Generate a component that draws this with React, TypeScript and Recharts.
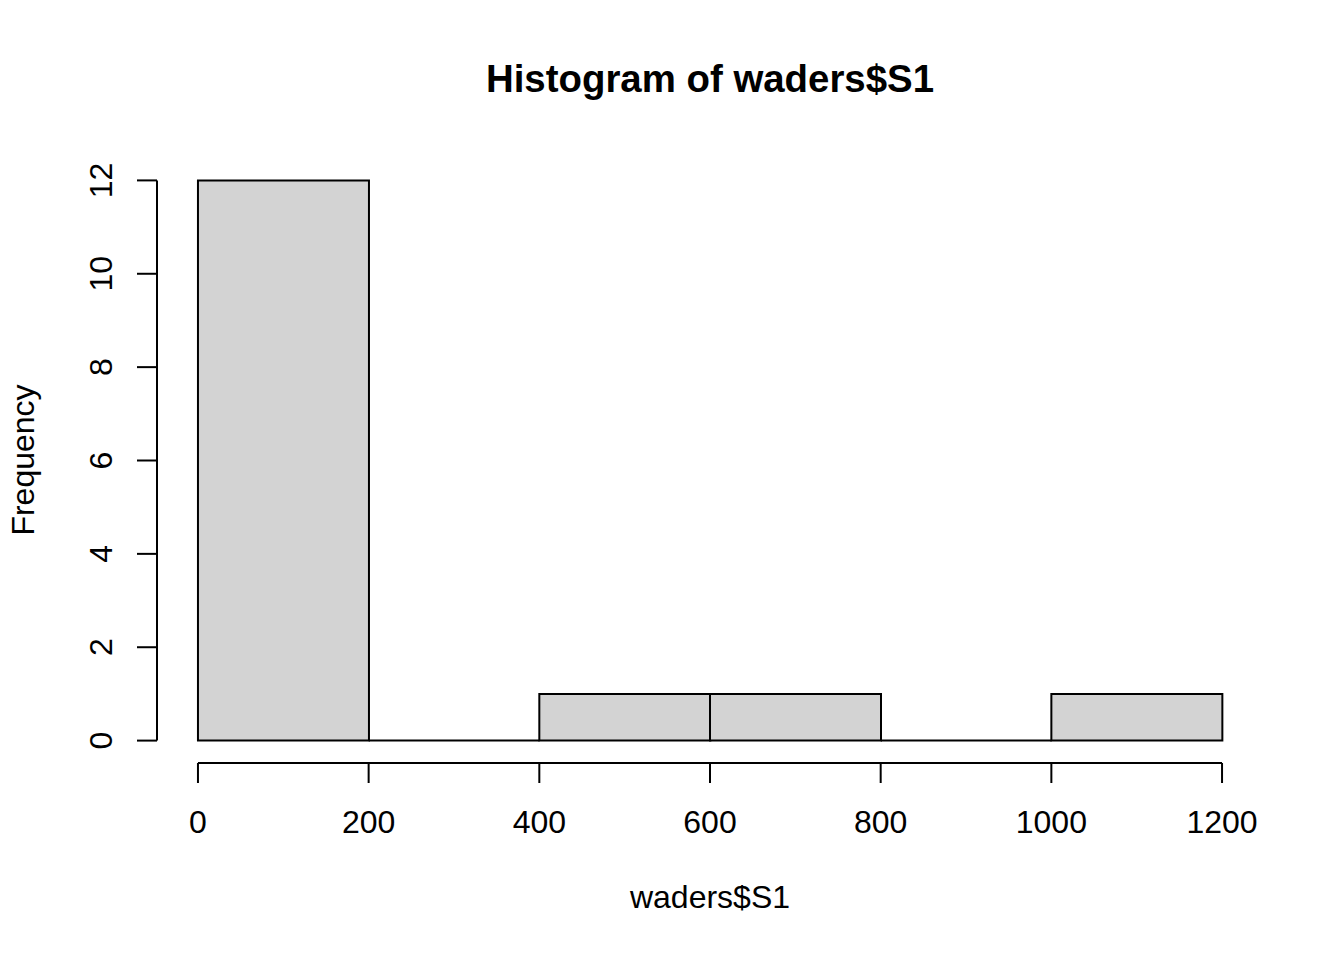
import React from 'react';
import { ComposedChart, Bar, XAxis, YAxis, ReferenceLine } from 'recharts';

// histogram bins (midpoints) and their counts
const binMids = [100, 300, 500, 700, 900, 1100];
const counts = [12, 0, 1, 1, 0, 1];
const xTicks = [0, 200, 400, 600, 800, 1000, 1200];
const yTicks = [0, 2, 4, 6, 8, 10, 12];

const FONT = '"Liberation Sans", Arial, Helvetica, sans-serif';

// R pads the axis ranges by 4%
const xMin = -48, xMax = 1248;
const yMin = -0.48, yMax = 12.48;

const data = binMids.map((m, i) => ({ mid: m, count: counts[i] }));

// zero-height bins still get drawn as a flat outline, like R does
const HistBar = (props: any) => {
  const { x, y, width, height } = props;
  const d = `M${x},${y} h${width} v${height} h${-width} Z`;
  return <path d={d} fill="#d3d3d3" stroke="#000" strokeWidth={2} />;
};

const XTick = ({ x, payload }: any) => (
  <text x={x} y={833} textAnchor="middle" fontFamily={FONT} fontSize={32} fill="#000">
    {payload.value}
  </text>
);

const YTick = ({ y, payload }: any) => (
  <text transform={`translate(112, ${y}) rotate(-90)`} textAnchor="middle" fontFamily={FONT} fontSize={32} fill="#000">
    {payload.value}
  </text>
);

export default function App() {
  return (
    <div style={{ position: 'absolute', left: 0, top: 0, width: 1344, height: 960, background: '#fff' }}>
      <ComposedChart
        width={1344}
        height={960}
        data={data}
        margin={{ top: 158, right: 81, bottom: 0, left: 0 }}
        barCategoryGap={0}
        barGap={0}
      >
        <XAxis
          dataKey="mid"
          type="number"
          domain={[xMin, xMax]}
          ticks={xTicks}
          allowDataOverflow
          height={197}
          axisLine={false}
          tickSize={20}
          tickLine={{ stroke: '#000', strokeWidth: 2 }}
          tick={<XTick />}
          interval={0}
        />
        <YAxis
          type="number"
          domain={[yMin, yMax]}
          ticks={yTicks}
          allowDataOverflow
          width={157}
          axisLine={false}
          tickSize={20}
          tickLine={{ stroke: '#000', strokeWidth: 2 }}
          tick={<YTick />}
          interval={0}
        />
        <Bar dataKey="count" shape={<HistBar />} isAnimationActive={false} />
        <ReferenceLine
          segment={[{ x: 0, y: yMin }, { x: 1200, y: yMin }]}
          stroke="#000"
          strokeWidth={2}
          ifOverflow="visible"
        />
        <ReferenceLine
          segment={[{ x: xMin, y: 0 }, { x: xMin, y: 12 }]}
          stroke="#000"
          strokeWidth={2}
          ifOverflow="visible"
        />
      </ComposedChart>
      <svg width={1344} height={960} style={{ position: 'absolute', left: 0, top: 0, pointerEvents: 'none' }}>
        <text x={710} y={92} textAnchor="middle" fontFamily={FONT} fontSize={38.4} fontWeight="bold" fill="#000">
          Histogram of waders$S1
        </text>
        <text x={710} y={908} textAnchor="middle" fontFamily={FONT} fontSize={32} fill="#000">
          waders$S1
        </text>
        <text transform="translate(34, 460) rotate(-90)" textAnchor="middle" fontFamily={FONT} fontSize={32} fill="#000">
          Frequency
        </text>
      </svg>
    </div>
  );
}
